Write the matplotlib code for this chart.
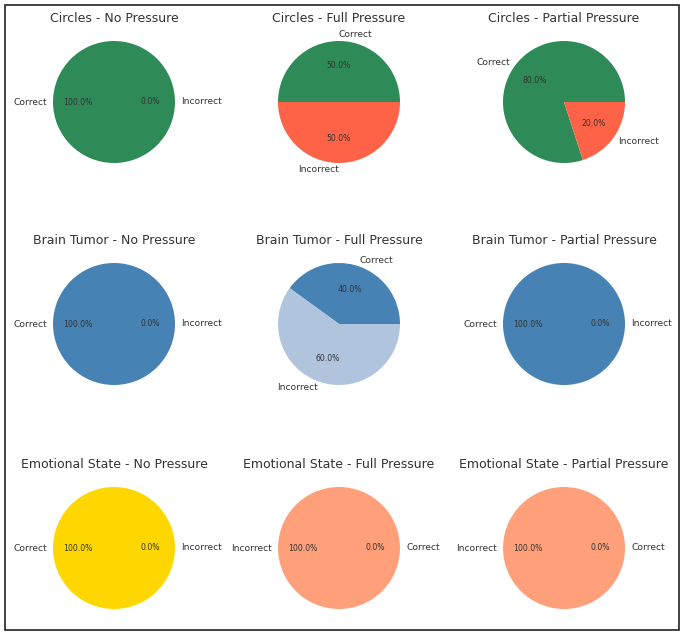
import matplotlib.pyplot as plt
from matplotlib.patches import Rectangle

# tasks (rows) and pressure conditions (columns)
tasks = ["Circles", "Brain Tumor", "Emotional State"]
conditions = ["No Pressure", "Full Pressure", "Partial Pressure"]

# slice labels and percentages, one list per pie (row by row)
circles_labels = [["Correct", "Incorrect"], ["Correct", "Incorrect"], ["Correct", "Incorrect"]]
circles_values = [[100, 0], [50, 50], [80, 20]]

brain_labels = [["Correct", "Incorrect"], ["Correct", "Incorrect"], ["Correct", "Incorrect"]]
brain_values = [[100, 0], [40, 60], [100, 0]]

emotion_labels = [["Correct", "Incorrect"], ["Incorrect", "Correct"], ["Incorrect", "Correct"]]
emotion_values = [[100, 0], [100, 0], [100, 0]]

# colour per label for each task
task_colors = [
    {"Correct": "seagreen", "Incorrect": "tomato"},
    {"Correct": "steelblue", "Incorrect": "lightsteelblue"},
    {"Correct": "gold", "Incorrect": "lightsalmon"},
]

all_labels = [circles_labels, brain_labels, emotion_labels]
all_values = [circles_values, brain_values, emotion_values]

W, H = 685, 638
fig = plt.figure(figsize=(W / 100, H / 100), dpi=100)
fig.patch.set_facecolor("white")

text_color = "#333333"
cx = [114, 339, 564]
cy = [102, 324, 548]
S = 152.5  # axes side in px (pie radius = S / 2.5)

for i in range(3):
    for j in range(3):
        rect = [(cx[j] - S / 2) / W, (H - cy[i] - S / 2) / H, S / W, S / H]
        ax = fig.add_axes(rect)
        labels = all_labels[i][j]
        values = all_values[i][j]
        colors = [task_colors[i][lab] for lab in labels]
        wedges, texts, autotexts = ax.pie(values, labels=labels, colors=colors,
                                          autopct="%1.1f%%",
                                          textprops={"color": text_color})
        for t in texts:
            t.set_fontsize(6.6)
            # labels straight above / below the centre: above goes right, below goes left
            x, y = t.get_position()
            if abs(x) < 1e-6:
                t.set_ha("left" if y > 0 else "right")
        for t in autotexts:
            t.set_fontsize(5.6)
        ax.set_title(f"{tasks[i]} - {conditions[j]}", fontsize=9,
                     color=text_color, pad=3)

fig.add_artist(Rectangle((5 / W, 8 / H), 674 / W, 625 / H,
                         transform=fig.transFigure, fill=False,
                         lw=1.2, edgecolor="#222222"))

fig.savefig("out.png", dpi=100)
